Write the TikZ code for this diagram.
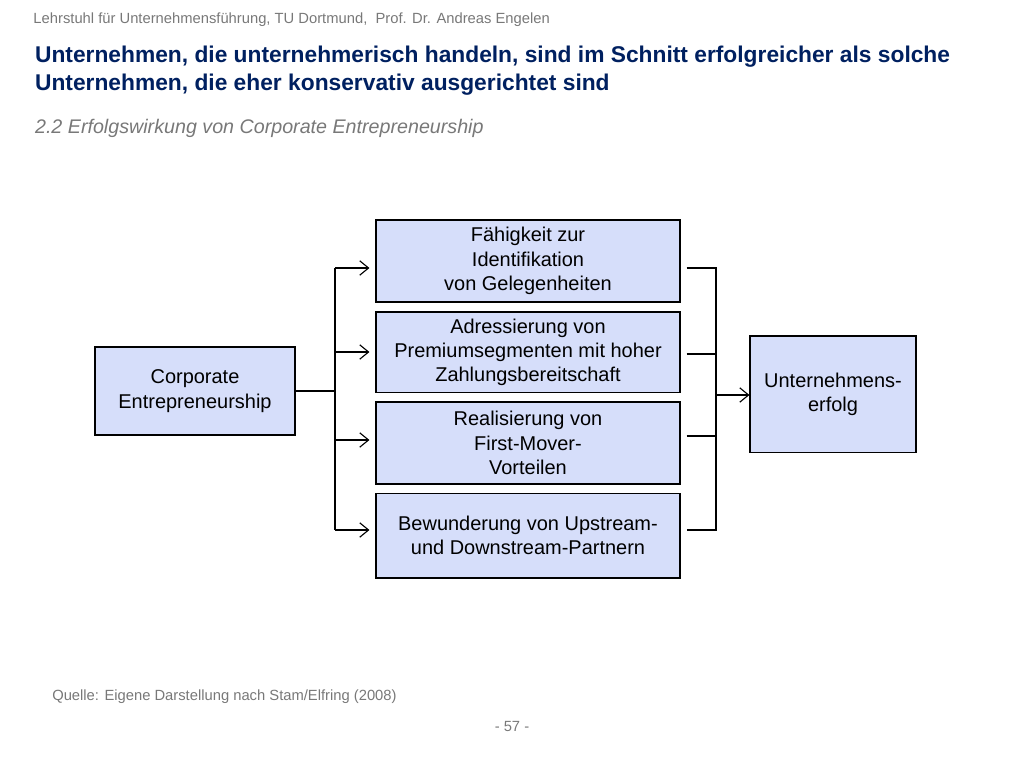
\documentclass[tikz,border=0pt]{standalone}
\usepackage{fontspec}
\setmainfont{Liberation Sans}
\usetikzlibrary{arrows.meta,positioning}
\definecolor{BoxBlue}{RGB}{214,222,250}
\definecolor{TitleBlue}{RGB}{0,32,96}
\definecolor{TextGray}{RGB}{120,120,120}
\tikzset{
  factor/.style={draw, thick, fill=BoxBlue, minimum width=7.6cm, align=center, inner sep=1pt, font=\fontsize{14.2}{17.3}\selectfont},
  link/.style={thick},
  arrow/.style={thick, -{Straight Barb[length=2.2mm,width=3.6mm]}}
}
\begin{document}
\begin{tikzpicture}[x=1cm,y=1cm]
            \useasboundingbox (0,0) rectangle (25.6,-19.2);
            %% Header and title
            \node[anchor=west, inner sep=0, text=TextGray, font=\fontsize{10.5}{12}\selectfont] (head) at (0.83,-0.5) {Lehrstuhl für Unternehmensführung, TU Dortmund,\ \ Prof. Dr. Andreas Engelen};
            \node[anchor=north west, inner sep=0, text=TitleBlue, align=left, font=\bfseries\fontsize{16.2}{19.8}\selectfont] (title) at (0.87,-1.15) {Unternehmen, die unternehmerisch handeln, sind im Schnitt erfolgreicher als solche\\Unternehmen, die eher konservativ ausgerichtet sind};
            \node[anchor=west, inner sep=0, text=TextGray, font=\itshape\fontsize{14}{16}\selectfont] (sub) at (0.87,-3.2) {2.2 Erfolgswirkung von Corporate Entrepreneurship};
            %% Boxes
            \node[factor, minimum width=5cm, minimum height=2.2cm] (ce) at (4.875,-9.775) {Corporate\\Entrepreneurship};
            \node[factor, minimum height=2.05cm] (f1) at (13.2,-6.525) {Fähigkeit zur\\Identifikation\\von Gelegenheiten};
            \node[factor, minimum height=2.02cm] (f2) at (13.2,-8.81) {Adressierung von\\Premiumsegmenten mit hoher\\Zahlungsbereitschaft};
            \node[factor, minimum height=2.05cm] (f3) at (13.2,-11.075) {Realisierung von\\First-Mover-\\Vorteilen};
            \node[factor, minimum height=2.12cm] (f4) at (13.2,-13.39) {Bewunderung von Upstream-\\und Downstream-Partnern};
            \node[factor, minimum width=4.15cm, minimum height=2.92cm] (ue) at (20.825,-9.86) {Unternehmens-\\erfolg};
            %% Left connector
            \coordinate (lsplit) at (8.375,-9.775);
            \draw[link] (ce.east) -- (lsplit);
            \draw[link] (8.375,-6.7) -- (8.375,-13.25);
            \draw[arrow] (8.375,-6.7) -- ([xshift=-1.5mm]f1.west |- 0,-6.7);
            \draw[arrow] (8.375,-8.8) -- ([xshift=-1.5mm]f2.west |- 0,-8.8);
            \draw[arrow] (8.375,-11.0) -- ([xshift=-1.5mm]f3.west |- 0,-11.0);
            \draw[arrow] (8.375,-13.25) -- ([xshift=-1.5mm]f4.west |- 0,-13.25);
            %% Right connector
            \coordinate (rjoin) at (17.9,-9.875);
            \draw[link] ([xshift=1.5mm]f1.east |- 0,-6.7) -- (17.9,-6.7) -- (17.9,-13.25) -- ([xshift=1.5mm]f4.east |- 0,-13.25);
            \draw[link] ([xshift=1.5mm]f2.east |- 0,-8.85) -- (17.9,-8.85);
            \draw[link] ([xshift=1.5mm]f3.east |- 0,-10.9) -- (17.9,-10.9);
            \draw[arrow] (rjoin) -- (ue.west |- rjoin);
            %% Footer
            \node[anchor=west, inner sep=0, text=TextGray, font=\fontsize{10.5}{12}\selectfont] (src) at (1.3,-17.42) {Quelle: Eigene Darstellung nach Stam/Elfring (2008)};
            \node[text=TextGray, font=\fontsize{10.5}{12}\selectfont] (page) at (12.8,-18.17) {- 57 -};
\end{tikzpicture}
\end{document}
